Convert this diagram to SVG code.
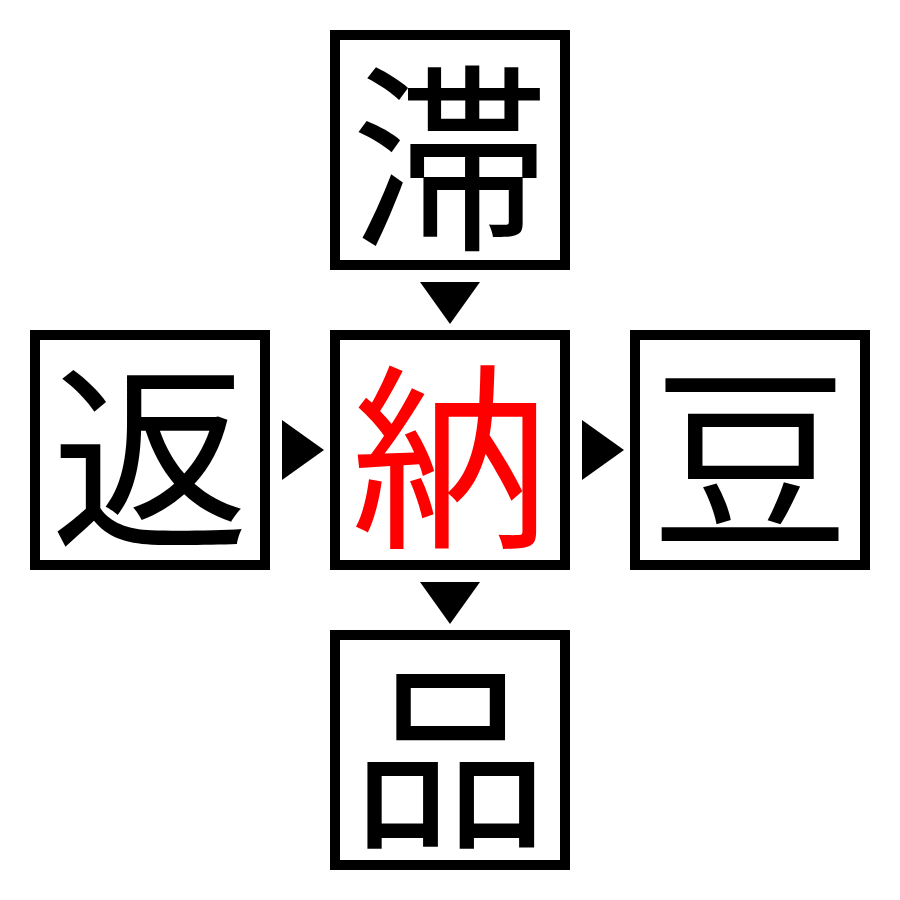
<svg xmlns="http://www.w3.org/2000/svg" width="900" height="900" viewBox="0 0 900 900">
<style>
.box{fill:#fff;stroke:#000;stroke-width:10}
.ch{font-family:"Noto Sans CJK JP","Noto Sans CJK SC",sans-serif;font-size:198px;text-anchor:middle;dominant-baseline:central;fill:#000}
.arr{fill:#000}
</style>
<rect width="900" height="900" fill="#fff"/>
<g id="connectors">
<polygon class="arr" points="420,282 480,282 450,324"/>
<polygon class="arr" points="282,420 282,480 324,450"/>
<polygon class="arr" points="582,420 582,480 624,450"/>
<polygon class="arr" points="420,582 480,582 450,624"/>
</g>
<g id="node-top"><rect class="box" x="335" y="35" width="230" height="230"/><text class="ch" x="450" y="145">滞</text></g>
<g id="node-left"><rect class="box" x="35" y="335" width="230" height="230"/><text class="ch" x="150" y="445">返</text></g>
<g id="node-center"><rect class="box" x="335" y="335" width="230" height="230"/><text class="ch" x="450" y="445" style="fill:#f00">納</text></g>
<g id="node-right"><rect class="box" x="635" y="335" width="230" height="230"/><text class="ch" x="750" y="445">豆</text></g>
<g id="node-bottom"><rect class="box" x="335" y="635" width="230" height="230"/><text class="ch" x="450" y="745">品</text></g>
</svg>
